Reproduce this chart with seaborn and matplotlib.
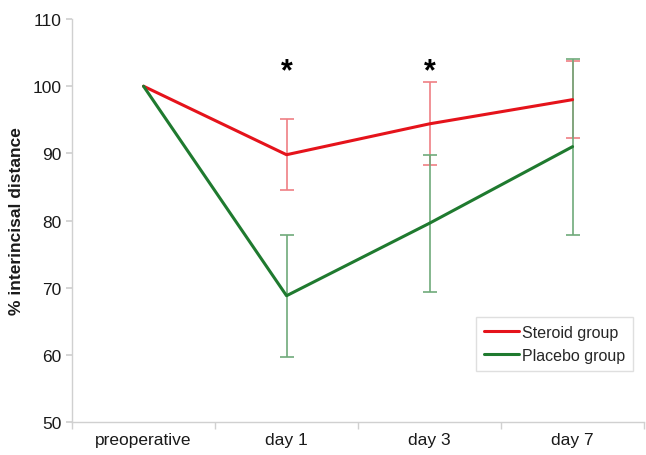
import numpy as np
import pandas as pd
import matplotlib
matplotlib.use('Agg')
import matplotlib.pyplot as plt
import seaborn as sns

# Data
categories = ['preoperative', 'day 1', 'day 3', 'day 7']
steroid_mean = [100, 89.8, 94.4, 98.0]
steroid_err = [0, 5.3, 6.2, 5.7]
placebo_mean = [100, 68.8, 79.6, 91.0]
placebo_err = [0, 9.1, 10.2, 13.1]
signif = ['day 1', 'day 3']

RED = '#e5131b'
GREEN = '#1f7a2f'
RED_LIGHT = '#ef7f84'
GREEN_LIGHT = '#6faa7a'

sns.set_theme(style='white')
plt.rcParams['font.family'] = ['Liberation Sans', 'DejaVu Sans']

df = pd.DataFrame({
    'x': list(range(len(categories))) * 2,
    'value': steroid_mean + placebo_mean,
    'group': ['Steroid group'] * 4 + ['Placebo group'] * 4,
})

fig = plt.figure(figsize=(6.46, 4.56), dpi=100)
ax = fig.add_axes([0.1115, 0.0724, 0.8855, 0.8836])

sns.lineplot(data=df, x='x', y='value', hue='group',
             palette={'Steroid group': RED, 'Placebo group': GREEN},
             linewidth=2.2, ax=ax, legend=True, zorder=3)

# error bars (lighter)
xs = np.arange(len(categories))
for mean, err, col in [(steroid_mean, steroid_err, RED_LIGHT), (placebo_mean, placebo_err, GREEN_LIGHT)]:
    m = np.array(mean[1:])
    e = np.array(err[1:])
    ax.errorbar(xs[1:], m, yerr=e, fmt='none', ecolor=col,
                elinewidth=1.2, capsize=5, capthick=1.2, zorder=2)

# significance asterisks
for c in signif:
    ax.text(categories.index(c), 102.3, '*', ha='center', va='center',
            fontsize=22, fontweight='bold', color='black')

ax.set_xlim(-0.5, 3.5)
ax.set_ylim(50, 110)
ax.set_yticks(range(50, 111, 10))
ax.set_xticks(xs)
ax.set_xticklabels(categories, fontsize=12.5)
ax.tick_params(axis='y', labelsize=12.5, length=4, color='#d0d0d0', left=True,
               labelcolor='#1a1a1a')
ax.tick_params(axis='x', length=0, pad=7, labelcolor='#1a1a1a')
# category separators on x axis
ax.set_xticks(np.arange(-0.5, 3.6, 1), minor=True)
ax.tick_params(axis='x', which='minor', length=5, color='#d0d0d0', bottom=True)

ax.set_xlabel('')
ax.set_ylabel('% interincisal distance', fontsize=12.5, fontweight='bold',
              color='#1a1a1a', labelpad=6)

for s in ['top', 'right']:
    ax.spines[s].set_visible(False)
for s in ['left', 'bottom']:
    ax.spines[s].set_color('#d0d0d0')
    ax.spines[s].set_linewidth(1)

leg = ax.legend(loc='lower right', bbox_to_anchor=(0.981, 0.127), borderaxespad=0,
                fontsize=11.5, frameon=True, fancybox=False, handlelength=2.2,
                handletextpad=0.2, borderpad=0.5, labelspacing=0.5)
leg.get_frame().set_edgecolor('#d8d8d8')
leg.get_frame().set_linewidth(1)

fig.savefig('out.png', dpi=100)
